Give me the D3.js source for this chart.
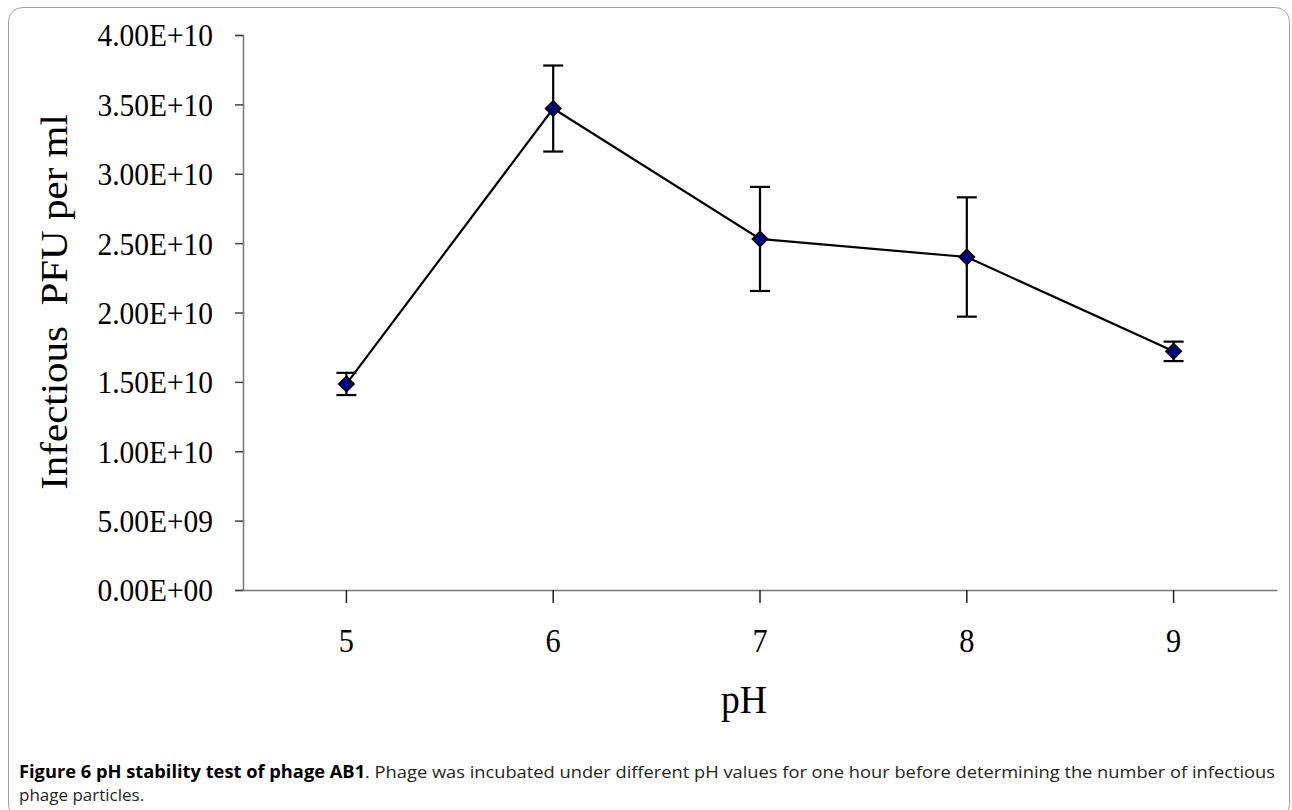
<!DOCTYPE html>
<html lang="en">

<head>
  <meta charset="utf-8">
  <title> pH stability </title>
  <script src="https://d3js.org/d3.v7.min.js"> </script>
  <style>
    body {
      margin: 0;
      background: #fff;
    }

    .serif {
      font-family: "Liberation Serif", "Times New Roman", serif;
      fill: #000;
    }

    .caption {
      font-family: "Open Sans", "Noto Sans", sans-serif;
      font-size: 17px;
      fill: #231f20;
    }
  </style>
</head>

<body>
  <script>
    // Data
    var phValues = [5, 6, 7, 8, 9];
    var pfuMeans = [1.485e10, 3.47e10, 2.53e10, 2.40e10, 1.72e10];
    var pfuErrors = [0.08e10, 0.31e10, 0.375e10, 0.43e10, 0.07e10];
    var yTicks = [0, 0.5e10, 1e10, 1.5e10, 2e10, 2.5e10, 3e10, 3.5e10, 4e10];

    var data = phValues.map(function(p, i) {
      return { ph: p, mean: pfuMeans[i], err: pfuErrors[i] };
    });

    var width = 1292, height = 810;
    var margin = { left: 243, top: 35 };
    var squeeze = 0.92; // the original text is a little narrowed

    var svg = d3.select("body")
      .append("svg")
      .attr("width", width)
      .attr("height", height);

    // Outer frame
    svg.append("rect")
      .attr("x", 8.5).attr("y", 7.5)
      .attr("width", 1281).attr("height", 812)
      .attr("rx", 14)
      .attr("fill", "none")
      .attr("stroke", "#a0a0a0")
      .attr("stroke-width", 1);

    var plotRight = 1277;
    var plotBottom = 590;

    var x = d3.scaleBand()
      .domain(phValues)
      .range([margin.left, plotRight]);

    var y = d3.scaleLinear()
      .domain([0, 4e10])
      .range([plotBottom, margin.top]);

    var cx = function(d) { return x(d.ph) + x.bandwidth() / 2; };

    // Y axis
    var yAxis = svg.append("g")
      .attr("transform", "translate(" + margin.left + ",0)")
      .call(d3.axisLeft(y).tickValues(yTicks).tickSize(8).tickFormat(function(d) {
        var s = d.toExponential(2).toUpperCase();
        return s.replace(/E\+?(-?)(\d+)$/, function(m, sign, e) {
          return "E" + (sign || "+") + (e.length < 2 ? "0" + e : e);
        });
      }));
    yAxis.select(".domain").attr("stroke", "#777").attr("stroke-width", 1.5);
    yAxis.selectAll(".tick line").attr("stroke", "#444").attr("stroke-width", 1.5);
    yAxis.selectAll(".tick text")
      .attr("class", "serif")
      .attr("font-size", 32)
      .attr("x", -30 / squeeze)
      .attr("dy", "0.34em")
      .attr("transform", "scale(" + squeeze + ",1)");

    // X axis
    var xAxis = svg.append("g")
      .attr("transform", "translate(0," + plotBottom + ")")
      .call(d3.axisBottom(x).tickSize(13).tickSizeOuter(0));
    xAxis.select(".domain").attr("stroke", "#777").attr("stroke-width", 1.5);
    xAxis.selectAll(".tick line").attr("stroke", "#222").attr("stroke-width", 1.5);
    xAxis.selectAll(".tick text")
      .attr("class", "serif")
      .attr("font-size", 33)
      .attr("y", 39)
      .attr("dy", "0.7em")
      .attr("transform", "scale(" + squeeze + ",1)");

    // Axis titles
    svg.append("text")
      .attr("class", "serif")
      .attr("font-size", 41)
      .attr("text-anchor", "middle")
      .attr("transform", "translate(744,713) scale(" + squeeze + ",1)")
      .text("pH");

    svg.append("text")
      .attr("class", "serif")
      .attr("font-size", 41)
      .attr("text-anchor", "middle")
      .style("white-space", "pre")
      .attr("transform", "translate(67,302) rotate(-90) scale(1," + squeeze + ")")
      .text("Infectious  PFU per ml");

    // Line
    var line = d3.line()
      .x(cx)
      .y(function(d) { return y(d.mean); });

    svg.append("path")
      .datum(data)
      .attr("d", line)
      .attr("fill", "none")
      .attr("stroke", "#000")
      .attr("stroke-width", 2.2);

    // Error bars
    var bars = svg.selectAll(".err")
      .data(data)
      .enter().append("g")
      .attr("class", "err")
      .attr("stroke", "#000")
      .attr("stroke-width", 2.2);

    bars.append("line")
      .attr("x1", cx).attr("x2", cx)
      .attr("y1", function(d) { return y(d.mean + d.err); })
      .attr("y2", function(d) { return y(d.mean - d.err); });

    bars.append("line")
      .attr("x1", function(d) { return cx(d) - 10; })
      .attr("x2", function(d) { return cx(d) + 10; })
      .attr("y1", function(d) { return y(d.mean + d.err); })
      .attr("y2", function(d) { return y(d.mean + d.err); });

    bars.append("line")
      .attr("x1", function(d) { return cx(d) - 10; })
      .attr("x2", function(d) { return cx(d) + 10; })
      .attr("y1", function(d) { return y(d.mean - d.err); })
      .attr("y2", function(d) { return y(d.mean - d.err); });

    // Diamond markers
    svg.selectAll(".dot")
      .data(data)
      .enter().append("path")
      .attr("class", "dot")
      .attr("d", d3.symbol().type(d3.symbolDiamond2).size(150))
      .attr("transform", function(d) {
        return "translate(" + cx(d) + "," + y(d.mean) + ")";
      })
      .attr("fill", "#000080")
      .attr("stroke", "#000")
      .attr("stroke-width", 1.6);

    // Caption
    var cap = svg.append("text")
      .attr("class", "caption")
      .attr("x", 19)
      .attr("y", 778)
      .attr("textLength", 1256)
      .attr("lengthAdjust", "spacingAndGlyphs");
    cap.append("tspan")
      .attr("font-weight", "bold")
      .attr("fill", "#000")
      .text("Figure 6 pH stability test of phage AB1");
    cap.append("tspan")
      .text(". Phage was incubated under different pH values for one hour before determining the number of infectious");

    svg.append("text")
      .attr("class", "caption")
      .attr("x", 19)
      .attr("y", 801)
      .text("phage particles.");
  </script>
</body>

</html>
